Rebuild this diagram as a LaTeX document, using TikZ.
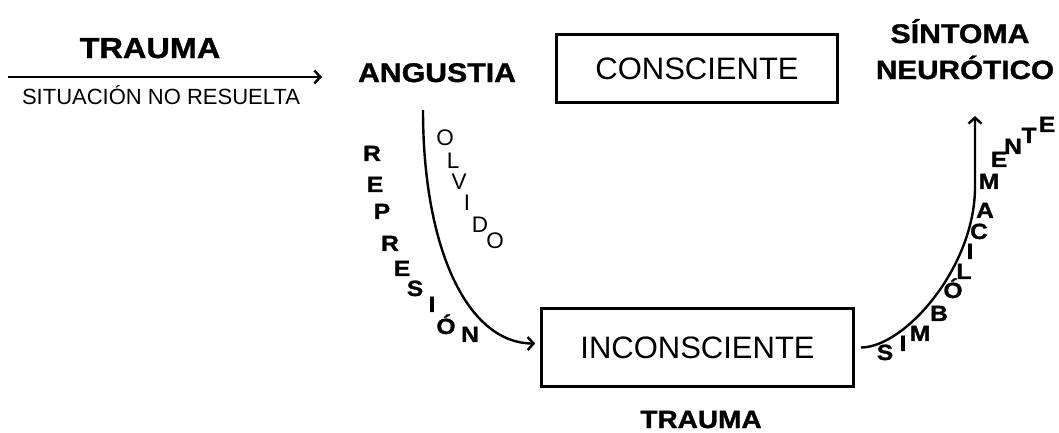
\documentclass[tikz,border=0pt]{standalone}
\usepackage{fontspec}
\setmainfont{Liberation Sans}
\newfontfamily\heavy{Liberation Sans}[FakeStretch=1.12,BoldFeatures={FakeBold=1.2}]
\usetikzlibrary{arrows.meta}

\begin{document}
\begin{tikzpicture}[x=1pt,y=-1pt,
  title/.style={anchor=base,font=\heavy\bfseries\fontsize{27}{32}\selectfont},
  box/.style={draw,line width=2.6pt,inner sep=0pt,text depth=0pt,font=\fontsize{31}{36}\selectfont},
  flow/.style={line width=2.4pt,-{Straight Barb[length=6pt,width=13pt]}},
  boldletter/.style={inner sep=0pt,text height=1.5ex,text depth=0pt,font=\heavy\bfseries\fontsize{22}{24}\selectfont},
  thinletter/.style={inner sep=0pt,text height=1.5ex,text depth=0pt,font=\fontsize{22.5}{24}\selectfont}]
\useasboundingbox (0,0) rectangle (1059,432);

\node[title,font=\heavy\bfseries\fontsize{29}{32}\selectfont] (trauma) at (150,58) {TRAUMA};
\node[anchor=base,font=\fontsize{22}{26}\selectfont] (situacion) at (161,104) {SITUACIÓN NO RESUELTA};
\node[title] (angustia) at (437,82) {ANGUSTIA};
\node[box,minimum width=281,minimum height=68] (consc) at (697,68.5) {CONSCIENTE};
\node[title] (sintoma) at (960,43) {SÍNTOMA};
\node[title,font=\heavy\bfseries\fontsize{26.5}{32}\selectfont] (neurotico) at (965,79) {NEURÓTICO};
\node[box,minimum width=312,minimum height=78] (incons) at (697.5,347.5) {INCONSCIENTE};
\node[title,font=\heavy\bfseries\fontsize{25}{30}\selectfont] (trauma2) at (701,428) {TRAUMA};

\coordinate (tstart) at (8,77); \coordinate (tend) at (322,77);
\draw[flow] (tstart) -- (tend);

% olvido / represion
\coordinate (angfoot) at (423,110);
\draw[flow,shorten >=5pt] (angfoot) .. controls +(0,140) and +(-72,0) .. ([yshift=4pt]incons.west);
\foreach \ch/\x/\y [count=\i] in {R/372/157,E/375/188,P/382/215,R/390/247,E/402/272,S/415/292,I/432/308,Ó/446/330,N/470/338}
  \node[boldletter] (rep\i) at (\x,\y) {\ch};
\foreach \ch/\x/\y [count=\i] in {O/445/142,L/453/165,V/459/186,I/467/207,D/480/229,O/495/245}
  \node[thinletter] (olv\i) at (\x,\y) {\ch};

% simbolicamente
\coordinate (symbend) at (975,187); \coordinate (symtip) at (975,116);
\draw[flow,shorten <=6pt] (incons.east) .. controls +(50,0) and +(0,80) .. (symbend) -- (symtip);
\foreach \ch/\x/\y [count=\i] in {S/885/356,I/903/347,M/920/337,B/939/317,Ó/953/294,L/964/275,I/970/255,C/979/235,A/985/214,M/989/185,E/999/163,N/1013/150,T/1029/139,E/1047/128}
  \node[boldletter] (sym\i) at (\x,\y) {\ch};
\end{tikzpicture}
\end{document}
